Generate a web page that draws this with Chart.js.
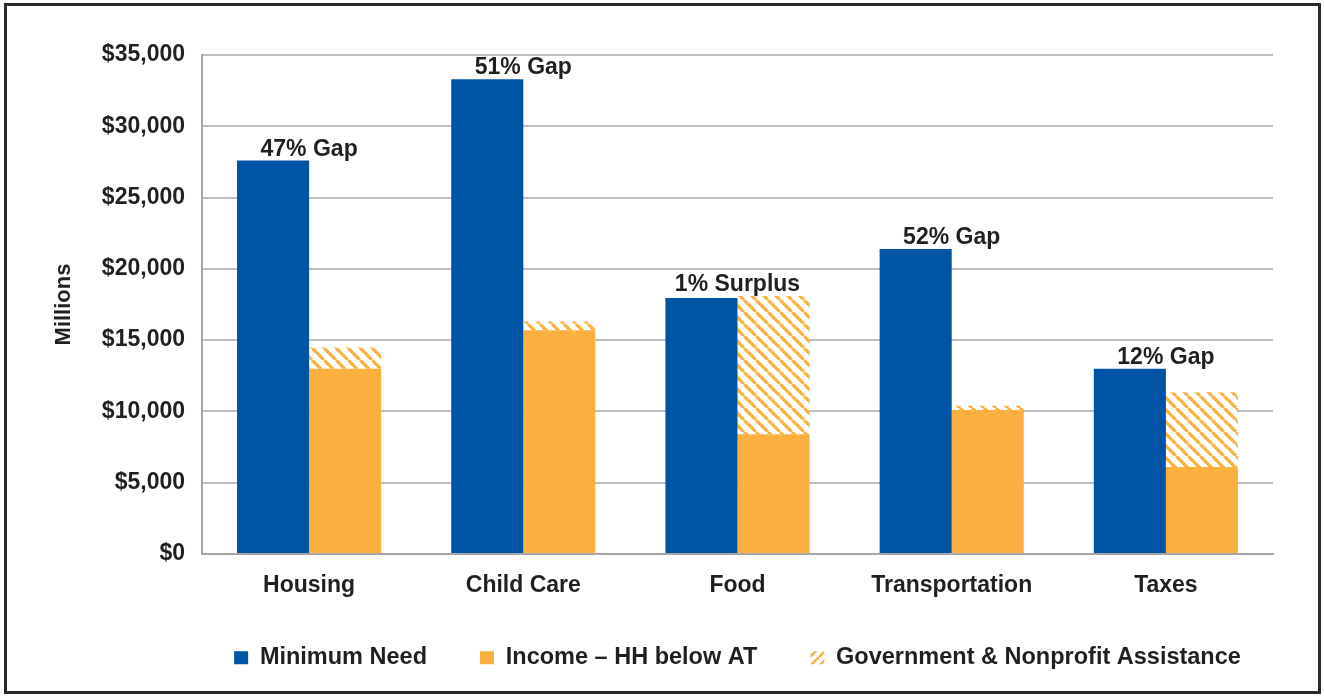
<!DOCTYPE html>
<html>
<head>
<meta charset="utf-8">
<script src="https://cdn.jsdelivr.net/npm/chart.js@4"></script>
<style>
  html,body{margin:0;padding:0;background:#fff;}
  #frame{position:absolute;left:4px;top:3px;width:1317px;height:691px;border:3px solid #2a2a2a;box-sizing:border-box;}
  #c{position:absolute;left:0;top:0;}
</style>
</head>
<body>
<div id="frame"></div>
<canvas id="c" width="1324" height="696"></canvas>
<script>
const categories = ['Housing', 'Child Care', 'Food', 'Transportation', 'Taxes'];
const minimumNeed = [27600, 33300, 17950, 21400, 13000];
const income = [13000, 15700, 8400, 10100, 6100];
const assistance = [1500, 600, 9700, 300, 5250];
const gapLabels = ['47% Gap', '51% Gap', '1% Surplus', '52% Gap', '12% Gap'];
const seriesNames = ['Minimum Need', 'Income \u2013 HH below AT', 'Government & Nonprofit Assistance'];

const BLUE = '#0054a6';
const ORANGE = '#fbb040';
const TEXT = '#231f20';
const FONT = '"Liberation Sans", Arial, Helvetica, sans-serif';

function hatch(size, width, dir) {
  const c = document.createElement('canvas');
  c.width = size; c.height = size;
  const g = c.getContext('2d');
  g.fillStyle = '#ffffff';
  g.fillRect(0, 0, size, size);
  g.strokeStyle = ORANGE;
  g.lineWidth = width;
  g.beginPath();
  for (let k = -1; k <= 1; k++) {
    if (dir === 'back') {
      g.moveTo(k * size, 0); g.lineTo(k * size + size, size);
    } else {
      g.moveTo(k * size, size); g.lineTo(k * size + size, 0);
    }
  }
  g.stroke();
  return g.createPattern(c, 'repeat');
}
const barHatch = hatch(12, 3.2, 'back');
const legendHatch = hatch(9, 2.6, 'fwd');

const gapLabelPlugin = {
  id: 'gapLabels',
  afterDatasetsDraw(chart) {
    const ctx = chart.ctx;
    const m0 = chart.getDatasetMeta(0);
    const m2 = chart.getDatasetMeta(2);
    const xs = chart.scales.x;
    ctx.save();
    ctx.font = 'bold 23px ' + FONT;
    ctx.fillStyle = TEXT;
    ctx.textAlign = 'center';
    ctx.textBaseline = 'alphabetic';
    gapLabels.forEach((t, i) => {
      const top = Math.min(m0.data[i].y, m2.data[i].y);
      ctx.fillText(t, xs.getPixelForValue(i), top - 5);
    });
    ctx.restore();
  }
};

// center the legend under the plot area and place it at the reference height
const legendAlignPlugin = {
  id: 'legendAlign',
  afterLayout(chart) {
    const l = chart.legend, ca = chart.chartArea;
    if (!l) return;
    const dx = (ca.left + ca.right) / 2 - (l.left + l.right) / 2;
    l.left += dx;
    l.right += dx;
    const h = l.bottom - l.top;
    l.top = ca.bottom + 39;
    l.bottom = l.top + h;
  }
};

new Chart(document.getElementById('c'), {
  type: 'bar',
  data: {
    labels: categories,
    datasets: [
      { label: seriesNames[0], data: minimumNeed, backgroundColor: BLUE, stack: 'need' },
      { label: seriesNames[1], data: income, backgroundColor: ORANGE, stack: 'avail' },
      { label: seriesNames[2], data: assistance, backgroundColor: barHatch, stack: 'avail' }
    ]
  },
  plugins: [gapLabelPlugin, legendAlignPlugin],
  options: {
    responsive: false,
    animation: false,
    devicePixelRatio: 1,
    layout: { padding: { left: 47, right: 51, top: 55, bottom: 11.5 } },
    datasets: { bar: { categoryPercentage: 0.673, barPercentage: 1.0, borderWidth: 0 } },
    scales: {
      x: {
        stacked: true,
        grid: { display: false, drawTicks: false },
        border: { display: true, color: '#a6a6a6', width: 2 },
        ticks: { color: TEXT, font: { family: FONT, size: 23, weight: 'bold' }, padding: 18 },
        afterFit(s) { s.height = 44; }
      },
      y: {
        stacked: true,
        min: 0, max: 35000,
        ticks: {
          stepSize: 5000, color: TEXT, padding: 17,
          font: { family: FONT, size: 23, weight: 'bold' },
          callback: v => '$' + Number(v).toLocaleString('en-US')
        },
        grid: { color: '#bfbfbf', lineWidth: 2, drawTicks: false },
        border: { display: true, color: '#a6a6a6', width: 2 },
        title: { display: true, text: 'Millions', color: TEXT, font: { family: FONT, size: 22, weight: 'bold' }, padding: { top: 4, bottom: 4 } },
        afterFit(s) { s.width = 202 - 47; }
      }
    },
    plugins: {
      tooltip: { enabled: false },
      legend: {
        position: 'bottom',
        labels: {
          color: TEXT,
          font: { family: FONT, size: 23.5, weight: 'bold' },
          boxWidth: 14, boxHeight: 13, padding: 53,
          generateLabels(chart) {
            return chart.data.datasets.map((d, i) => ({
              text: d.label,
              fillStyle: i === 2 ? legendHatch : d.backgroundColor,
              strokeStyle: 'rgba(0,0,0,0)',
              lineWidth: 0,
              hidden: false,
              datasetIndex: i,
              fontColor: TEXT
            }));
          }
        }
      }
    }
  }
});
</script>
</body>
</html>
